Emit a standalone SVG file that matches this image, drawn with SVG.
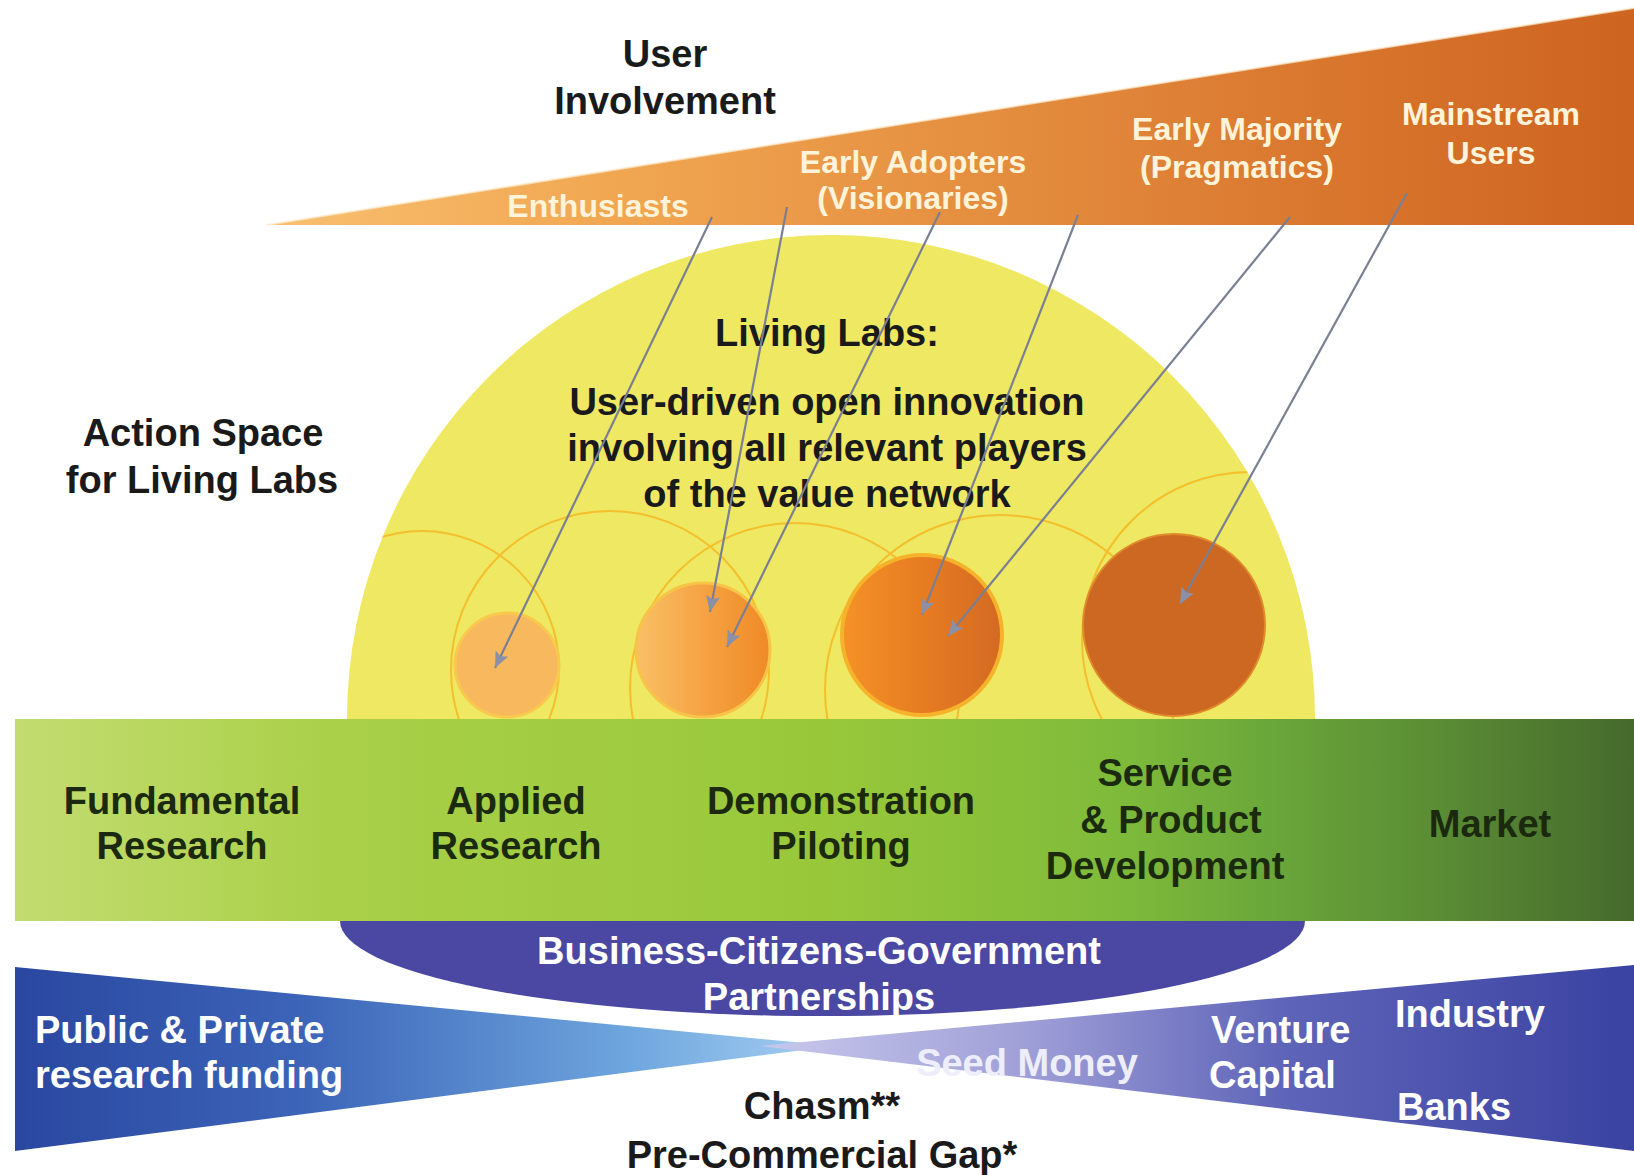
<svg xmlns="http://www.w3.org/2000/svg" width="1634" height="1175" viewBox="0 0 1634 1175">
<defs>
<style>
.t{font-family:"Liberation Sans",Arial,sans-serif;font-weight:bold;text-anchor:middle}
.s38{font-size:38px}
.s32{font-size:32px}
.lt{fill:#fff3da}
.dk{fill:#1a1a1a}
.gk{fill:#1b2a0e}
.wh{fill:#ffffff}
.ring{fill:none;stroke:#f3bf2c;stroke-width:2}
.arr{stroke:#7b7f93;stroke-width:2.2;fill:none;marker-end:url(#ah)}
</style>
<linearGradient id="gTop" x1="266" y1="0" x2="1634" y2="0" gradientUnits="userSpaceOnUse">
<stop offset="0" stop-color="#f8c070"/>
<stop offset="0.25" stop-color="#f1a752"/>
<stop offset="0.55" stop-color="#e38c3e"/>
<stop offset="0.8" stop-color="#d8742c"/>
<stop offset="1" stop-color="#cd6420"/>
</linearGradient>
<linearGradient id="gGreen" x1="15" y1="0" x2="1634" y2="0" gradientUnits="userSpaceOnUse">
<stop offset="0" stop-color="#c3dc70"/>
<stop offset="0.2" stop-color="#a9d048"/>
<stop offset="0.5" stop-color="#98c83a"/>
<stop offset="0.68" stop-color="#7fbb3a"/>
<stop offset="0.77" stop-color="#6ba83a"/>
<stop offset="0.88" stop-color="#5a8c34"/>
<stop offset="1" stop-color="#456a2c"/>
</linearGradient>
<linearGradient id="gLeft" x1="15" y1="0" x2="835" y2="0" gradientUnits="userSpaceOnUse">
<stop offset="0" stop-color="#2a47a0"/>
<stop offset="0.35" stop-color="#3c64b8"/>
<stop offset="0.75" stop-color="#6ea6de"/>
<stop offset="1" stop-color="#a8d0f2"/>
</linearGradient>
<linearGradient id="gRight" x1="760" y1="0" x2="1634" y2="0" gradientUnits="userSpaceOnUse">
<stop offset="0" stop-color="#c8c8ec"/>
<stop offset="0.3" stop-color="#a0a0d8"/>
<stop offset="0.6" stop-color="#5e64b8"/>
<stop offset="1" stop-color="#3a42a2"/>
</linearGradient>
<linearGradient id="gC2" x1="0" y1="0" x2="1" y2="0">
<stop offset="0" stop-color="#f9c066"/>
<stop offset="0.55" stop-color="#f5a040"/>
<stop offset="1" stop-color="#ef8a26"/>
</linearGradient>
<linearGradient id="gC3" x1="0" y1="0" x2="1" y2="0">
<stop offset="0" stop-color="#f49226"/>
<stop offset="0.5" stop-color="#e77c22"/>
<stop offset="1" stop-color="#d46a22"/>
</linearGradient>
<clipPath id="domeClip">
<path d="M347,719 A484,484 0 0 1 1315,719 Z"/>
</clipPath>
<marker id="ah" markerUnits="userSpaceOnUse" markerWidth="18" markerHeight="14" refX="16" refY="7" orient="auto">
<path d="M0,0 L16,7 L0,14 L3,7 Z" fill="#8a90a8"/>
</marker>
</defs>
<rect x="0" y="0" width="1634" height="1175" fill="#ffffff"/>

<g id="user-involvement">
<polygon points="266,225 1634,8 1634,225" fill="url(#gTop)"/>
<line x1="266" y1="225" x2="1634" y2="8" stroke="#fdf0d8" stroke-width="2" opacity="0.7"/>
<text class="t s38 dk" x="665" y="67">User</text>
<text class="t s38 dk" x="665" y="114">Involvement</text>
<text class="t s32 lt" x="598" y="217">Enthusiasts</text>
<text class="t s32 lt" x="913" y="173">Early Adopters</text>
<text class="t s32 lt" x="913" y="209">(Visionaries)</text>
<text class="t s32 lt" x="1237" y="140">Early Majority</text>
<text class="t s32 lt" x="1237" y="178">(Pragmatics)</text>
<text class="t s32 lt" x="1491" y="125">Mainstream</text>
<text class="t s32 lt" x="1491" y="164">Users</text>
</g>

<g id="living-labs-dome">
<path d="M347,719 A484,484 0 0 1 1315,719 Z" fill="#efe862"/>
<g clip-path="url(#domeClip)">
<circle class="ring" cx="422" cy="668" r="137"/>
<circle class="ring" cx="610" cy="670" r="159"/>
<circle class="ring" cx="795" cy="688" r="165"/>
<circle class="ring" cx="1000" cy="690" r="175"/>
<circle class="ring" cx="1250" cy="640" r="168"/>
</g>
<text class="t s38 dk" x="827" y="346">Living Labs:</text>
<text class="t s38 dk" x="827" y="415">User-driven open innovation</text>
<text class="t s38 dk" x="827" y="461">involving all relevant players</text>
<text class="t s38 dk" x="827" y="507">of the value network</text>
</g>

<g id="stage-circles">
<circle cx="507" cy="665" r="52" fill="#f8b95e" stroke="#f8c94c" stroke-width="3"/>
<circle cx="703" cy="650" r="67" fill="url(#gC2)" stroke="#f8c448" stroke-width="3"/>
<circle cx="922" cy="635" r="80" fill="url(#gC3)" stroke="#f6b22a" stroke-width="4"/>
<circle cx="1174" cy="625" r="91" fill="#cd6822" stroke="#e08a2c" stroke-width="2"/>
</g>

<g id="action-space-label">
<text class="t s38 dk" x="203" y="446">Action Space</text>
<text class="t s38 dk" x="202" y="493">for Living Labs</text>
</g>

<g id="partnerships">
<path d="M340,921 A482,95 0 0 0 1305,921 Z" fill="#4a48a2"/>
<text class="t s38 wh" x="819" y="964">Business-Citizens-Government</text>
<text class="t s38 wh" x="819" y="1010">Partnerships</text>
</g>

<g id="innovation-stages">
<rect x="15" y="719" width="1619" height="202" fill="url(#gGreen)"/>
<text class="t s38 gk" x="182" y="814">Fundamental</text>
<text class="t s38 gk" x="182" y="859">Research</text>
<text class="t s38 gk" x="516" y="814">Applied</text>
<text class="t s38 gk" x="516" y="859">Research</text>
<text class="t s38 gk" x="841" y="814">Demonstration</text>
<text class="t s38 gk" x="841" y="859">Piloting</text>
<text class="t s38 gk" x="1165" y="786">Service</text>
<text class="t s38 gk" x="1171" y="833">&amp; Product</text>
<text class="t s38 gk" x="1165" y="879">Development</text>
<text class="t s38 gk" x="1490" y="837">Market</text>
</g>

<g id="funding">
<polygon points="15,967 835,1046 15,1151" fill="url(#gLeft)"/>
<polygon points="1634,965 760,1046 1634,1151" fill="url(#gRight)"/>
<text class="t s38 wh" x="35" y="1043" style="text-anchor:start">Public &amp; Private</text>
<text class="t s38 wh" x="35" y="1088" style="text-anchor:start">research funding</text>
<text class="t s38" x="1027" y="1076" fill="#eeeefa">Seed Money</text>
<text class="t s38 wh" x="1211" y="1043" style="text-anchor:start">Venture</text>
<text class="t s38 wh" x="1209" y="1088" style="text-anchor:start">Capital</text>
<text class="t s38 wh" x="1395" y="1027" style="text-anchor:start">Industry</text>
<text class="t s38 wh" x="1397" y="1120" style="text-anchor:start">Banks</text>
<text class="t s38 dk" x="822" y="1119">Chasm**</text>
<text class="t s38 dk" x="822" y="1168">Pre-Commercial Gap*</text>
</g>

<g id="connectors">
<line class="arr" x1="712" y1="217" x2="495" y2="668"/>
<line class="arr" x1="787" y1="207" x2="710" y2="612"/>
<line class="arr" x1="940" y1="212" x2="727" y2="647"/>
<line class="arr" x1="1078" y1="215" x2="922" y2="615"/>
<line class="arr" x1="1290" y1="217" x2="948" y2="636"/>
<line class="arr" x1="1407" y1="193" x2="1180" y2="604"/>
</g>
</svg>
